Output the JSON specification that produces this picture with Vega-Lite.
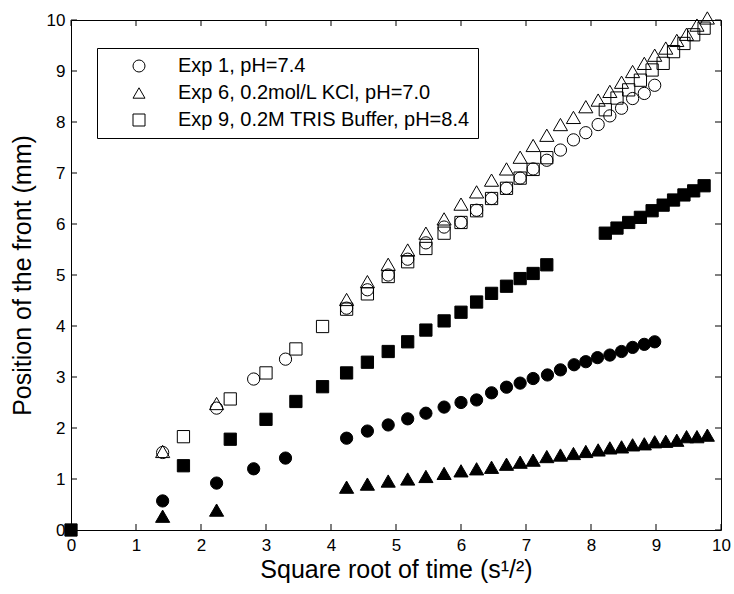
{
  "$schema": "https://vega.github.io/schema/vega-lite/v6.json",
  "width": 650,
  "height": 510,
  "autosize": "none",
  "padding": {"left": 71, "top": 20, "right": 13, "bottom": 64},
  "background": "white",
  "config": {
    "font": "Liberation Sans",
    "view": {"stroke": "black", "strokeWidth": 1},
    "axis": {
      "grid": false,
      "domain": false,
      "labelColor": "black",
      "titleColor": "black",
      "labelFont": "Liberation Sans",
      "titleFont": "Liberation Sans",
      "labelFontSize": 17,
      "titleFontSize": 25,
      "titleFontWeight": "normal",
      "labelFlush": false
    },
    "tick": {"thickness": 1, "color": "black", "opacity": 1},
    "legend": {
      "orient": "none",
      "legendX": 26,
      "legendY": 28,
      "fillColor": "white",
      "strokeColor": "black",
      "padding": 8,
      "labelFont": "Liberation Sans",
      "labelFontSize": 20,
      "labelColor": "black",
      "labelLimit": 500,
      "symbolOffset": 24,
      "labelOffset": 29,
      "rowPadding": 7,
      "symbolStrokeColor": "black",
      "symbolStrokeWidth": 1,
      "symbolFillColor": "transparent",
      "symbolSize": 144,
      "zindex": 2
    }
  },
  "datasets": {
    "ticks": [{"v": 0}, {"v": 1}, {"v": 2}, {"v": 3}, {"v": 4}, {"v": 5}, {"v": 6}, {"v": 7}, {"v": 8}, {"v": 9}, {"v": 10}],
    "open": [
      {"x": 1.41, "y": 1.52, "exp": "Exp 1, pH=7.4"},
      {"x": 2.24, "y": 2.39, "exp": "Exp 1, pH=7.4"},
      {"x": 2.81, "y": 2.96, "exp": "Exp 1, pH=7.4"},
      {"x": 3.30, "y": 3.35, "exp": "Exp 1, pH=7.4"},
      {"x": 4.24, "y": 4.35, "exp": "Exp 1, pH=7.4"},
      {"x": 4.56, "y": 4.71, "exp": "Exp 1, pH=7.4"},
      {"x": 4.88, "y": 5.00, "exp": "Exp 1, pH=7.4"},
      {"x": 5.18, "y": 5.31, "exp": "Exp 1, pH=7.4"},
      {"x": 5.46, "y": 5.63, "exp": "Exp 1, pH=7.4"},
      {"x": 5.74, "y": 5.94, "exp": "Exp 1, pH=7.4"},
      {"x": 6.00, "y": 6.03, "exp": "Exp 1, pH=7.4"},
      {"x": 6.24, "y": 6.27, "exp": "Exp 1, pH=7.4"},
      {"x": 6.47, "y": 6.50, "exp": "Exp 1, pH=7.4"},
      {"x": 6.70, "y": 6.70, "exp": "Exp 1, pH=7.4"},
      {"x": 6.91, "y": 6.90, "exp": "Exp 1, pH=7.4"},
      {"x": 7.11, "y": 7.08, "exp": "Exp 1, pH=7.4"},
      {"x": 7.32, "y": 7.25, "exp": "Exp 1, pH=7.4"},
      {"x": 7.53, "y": 7.45, "exp": "Exp 1, pH=7.4"},
      {"x": 7.73, "y": 7.65, "exp": "Exp 1, pH=7.4"},
      {"x": 7.92, "y": 7.79, "exp": "Exp 1, pH=7.4"},
      {"x": 8.11, "y": 7.95, "exp": "Exp 1, pH=7.4"},
      {"x": 8.29, "y": 8.12, "exp": "Exp 1, pH=7.4"},
      {"x": 8.47, "y": 8.27, "exp": "Exp 1, pH=7.4"},
      {"x": 8.64, "y": 8.46, "exp": "Exp 1, pH=7.4"},
      {"x": 8.82, "y": 8.56, "exp": "Exp 1, pH=7.4"},
      {"x": 8.98, "y": 8.72, "exp": "Exp 1, pH=7.4"},
      {"x": 1.41, "y": 1.54, "exp": "Exp 6, 0.2mol/L KCl, pH=7.0"},
      {"x": 2.24, "y": 2.48, "exp": "Exp 6, 0.2mol/L KCl, pH=7.0"},
      {"x": 4.24, "y": 4.52, "exp": "Exp 6, 0.2mol/L KCl, pH=7.0"},
      {"x": 4.56, "y": 4.87, "exp": "Exp 6, 0.2mol/L KCl, pH=7.0"},
      {"x": 4.88, "y": 5.21, "exp": "Exp 6, 0.2mol/L KCl, pH=7.0"},
      {"x": 5.18, "y": 5.49, "exp": "Exp 6, 0.2mol/L KCl, pH=7.0"},
      {"x": 5.46, "y": 5.82, "exp": "Exp 6, 0.2mol/L KCl, pH=7.0"},
      {"x": 5.74, "y": 6.10, "exp": "Exp 6, 0.2mol/L KCl, pH=7.0"},
      {"x": 6.00, "y": 6.39, "exp": "Exp 6, 0.2mol/L KCl, pH=7.0"},
      {"x": 6.24, "y": 6.63, "exp": "Exp 6, 0.2mol/L KCl, pH=7.0"},
      {"x": 6.47, "y": 6.86, "exp": "Exp 6, 0.2mol/L KCl, pH=7.0"},
      {"x": 6.70, "y": 7.08, "exp": "Exp 6, 0.2mol/L KCl, pH=7.0"},
      {"x": 6.91, "y": 7.31, "exp": "Exp 6, 0.2mol/L KCl, pH=7.0"},
      {"x": 7.11, "y": 7.54, "exp": "Exp 6, 0.2mol/L KCl, pH=7.0"},
      {"x": 7.32, "y": 7.74, "exp": "Exp 6, 0.2mol/L KCl, pH=7.0"},
      {"x": 7.53, "y": 7.95, "exp": "Exp 6, 0.2mol/L KCl, pH=7.0"},
      {"x": 7.73, "y": 8.09, "exp": "Exp 6, 0.2mol/L KCl, pH=7.0"},
      {"x": 7.92, "y": 8.30, "exp": "Exp 6, 0.2mol/L KCl, pH=7.0"},
      {"x": 8.11, "y": 8.43, "exp": "Exp 6, 0.2mol/L KCl, pH=7.0"},
      {"x": 8.29, "y": 8.60, "exp": "Exp 6, 0.2mol/L KCl, pH=7.0"},
      {"x": 8.47, "y": 8.78, "exp": "Exp 6, 0.2mol/L KCl, pH=7.0"},
      {"x": 8.64, "y": 8.99, "exp": "Exp 6, 0.2mol/L KCl, pH=7.0"},
      {"x": 8.82, "y": 9.15, "exp": "Exp 6, 0.2mol/L KCl, pH=7.0"},
      {"x": 8.98, "y": 9.31, "exp": "Exp 6, 0.2mol/L KCl, pH=7.0"},
      {"x": 9.15, "y": 9.45, "exp": "Exp 6, 0.2mol/L KCl, pH=7.0"},
      {"x": 9.32, "y": 9.60, "exp": "Exp 6, 0.2mol/L KCl, pH=7.0"},
      {"x": 9.47, "y": 9.72, "exp": "Exp 6, 0.2mol/L KCl, pH=7.0"},
      {"x": 9.63, "y": 9.90, "exp": "Exp 6, 0.2mol/L KCl, pH=7.0"},
      {"x": 9.79, "y": 10.04, "exp": "Exp 6, 0.2mol/L KCl, pH=7.0"},
      {"x": 1.73, "y": 1.83, "exp": "Exp 9, 0.2M TRIS Buffer, pH=8.4"},
      {"x": 2.45, "y": 2.57, "exp": "Exp 9, 0.2M TRIS Buffer, pH=8.4"},
      {"x": 3.00, "y": 3.08, "exp": "Exp 9, 0.2M TRIS Buffer, pH=8.4"},
      {"x": 3.46, "y": 3.55, "exp": "Exp 9, 0.2M TRIS Buffer, pH=8.4"},
      {"x": 3.87, "y": 3.99, "exp": "Exp 9, 0.2M TRIS Buffer, pH=8.4"},
      {"x": 4.24, "y": 4.33, "exp": "Exp 9, 0.2M TRIS Buffer, pH=8.4"},
      {"x": 4.56, "y": 4.63, "exp": "Exp 9, 0.2M TRIS Buffer, pH=8.4"},
      {"x": 4.88, "y": 4.97, "exp": "Exp 9, 0.2M TRIS Buffer, pH=8.4"},
      {"x": 5.18, "y": 5.26, "exp": "Exp 9, 0.2M TRIS Buffer, pH=8.4"},
      {"x": 5.46, "y": 5.52, "exp": "Exp 9, 0.2M TRIS Buffer, pH=8.4"},
      {"x": 5.74, "y": 5.82, "exp": "Exp 9, 0.2M TRIS Buffer, pH=8.4"},
      {"x": 6.00, "y": 6.03, "exp": "Exp 9, 0.2M TRIS Buffer, pH=8.4"},
      {"x": 6.24, "y": 6.26, "exp": "Exp 9, 0.2M TRIS Buffer, pH=8.4"},
      {"x": 6.47, "y": 6.50, "exp": "Exp 9, 0.2M TRIS Buffer, pH=8.4"},
      {"x": 6.70, "y": 6.70, "exp": "Exp 9, 0.2M TRIS Buffer, pH=8.4"},
      {"x": 6.91, "y": 6.90, "exp": "Exp 9, 0.2M TRIS Buffer, pH=8.4"},
      {"x": 7.11, "y": 7.07, "exp": "Exp 9, 0.2M TRIS Buffer, pH=8.4"},
      {"x": 7.32, "y": 7.30, "exp": "Exp 9, 0.2M TRIS Buffer, pH=8.4"},
      {"x": 8.22, "y": 8.24, "exp": "Exp 9, 0.2M TRIS Buffer, pH=8.4"},
      {"x": 8.40, "y": 8.47, "exp": "Exp 9, 0.2M TRIS Buffer, pH=8.4"},
      {"x": 8.58, "y": 8.63, "exp": "Exp 9, 0.2M TRIS Buffer, pH=8.4"},
      {"x": 8.76, "y": 8.82, "exp": "Exp 9, 0.2M TRIS Buffer, pH=8.4"},
      {"x": 8.94, "y": 9.02, "exp": "Exp 9, 0.2M TRIS Buffer, pH=8.4"},
      {"x": 9.11, "y": 9.15, "exp": "Exp 9, 0.2M TRIS Buffer, pH=8.4"},
      {"x": 9.27, "y": 9.38, "exp": "Exp 9, 0.2M TRIS Buffer, pH=8.4"},
      {"x": 9.43, "y": 9.54, "exp": "Exp 9, 0.2M TRIS Buffer, pH=8.4"},
      {"x": 9.58, "y": 9.71, "exp": "Exp 9, 0.2M TRIS Buffer, pH=8.4"},
      {"x": 9.74, "y": 9.84, "exp": "Exp 9, 0.2M TRIS Buffer, pH=8.4"}
    ],
    "filled": [
      {"x": 0, "y": 0, "exp": "Exp 9, 0.2M TRIS Buffer, pH=8.4"},
      {"x": 1.41, "y": 0.57, "exp": "Exp 1, pH=7.4"},
      {"x": 2.24, "y": 0.92, "exp": "Exp 1, pH=7.4"},
      {"x": 2.81, "y": 1.20, "exp": "Exp 1, pH=7.4"},
      {"x": 3.30, "y": 1.41, "exp": "Exp 1, pH=7.4"},
      {"x": 4.24, "y": 1.80, "exp": "Exp 1, pH=7.4"},
      {"x": 4.56, "y": 1.94, "exp": "Exp 1, pH=7.4"},
      {"x": 4.88, "y": 2.06, "exp": "Exp 1, pH=7.4"},
      {"x": 5.18, "y": 2.18, "exp": "Exp 1, pH=7.4"},
      {"x": 5.46, "y": 2.29, "exp": "Exp 1, pH=7.4"},
      {"x": 5.74, "y": 2.41, "exp": "Exp 1, pH=7.4"},
      {"x": 6.00, "y": 2.50, "exp": "Exp 1, pH=7.4"},
      {"x": 6.24, "y": 2.55, "exp": "Exp 1, pH=7.4"},
      {"x": 6.47, "y": 2.69, "exp": "Exp 1, pH=7.4"},
      {"x": 6.70, "y": 2.80, "exp": "Exp 1, pH=7.4"},
      {"x": 6.91, "y": 2.88, "exp": "Exp 1, pH=7.4"},
      {"x": 7.11, "y": 2.97, "exp": "Exp 1, pH=7.4"},
      {"x": 7.33, "y": 3.04, "exp": "Exp 1, pH=7.4"},
      {"x": 7.53, "y": 3.14, "exp": "Exp 1, pH=7.4"},
      {"x": 7.74, "y": 3.24, "exp": "Exp 1, pH=7.4"},
      {"x": 7.92, "y": 3.30, "exp": "Exp 1, pH=7.4"},
      {"x": 8.10, "y": 3.38, "exp": "Exp 1, pH=7.4"},
      {"x": 8.29, "y": 3.43, "exp": "Exp 1, pH=7.4"},
      {"x": 8.47, "y": 3.50, "exp": "Exp 1, pH=7.4"},
      {"x": 8.64, "y": 3.58, "exp": "Exp 1, pH=7.4"},
      {"x": 8.82, "y": 3.64, "exp": "Exp 1, pH=7.4"},
      {"x": 8.98, "y": 3.69, "exp": "Exp 1, pH=7.4"},
      {"x": 1.41, "y": 0.27, "exp": "Exp 6, 0.2mol/L KCl, pH=7.0"},
      {"x": 2.24, "y": 0.39, "exp": "Exp 6, 0.2mol/L KCl, pH=7.0"},
      {"x": 4.24, "y": 0.84, "exp": "Exp 6, 0.2mol/L KCl, pH=7.0"},
      {"x": 4.56, "y": 0.90, "exp": "Exp 6, 0.2mol/L KCl, pH=7.0"},
      {"x": 4.88, "y": 0.96, "exp": "Exp 6, 0.2mol/L KCl, pH=7.0"},
      {"x": 5.18, "y": 1.00, "exp": "Exp 6, 0.2mol/L KCl, pH=7.0"},
      {"x": 5.46, "y": 1.05, "exp": "Exp 6, 0.2mol/L KCl, pH=7.0"},
      {"x": 5.74, "y": 1.11, "exp": "Exp 6, 0.2mol/L KCl, pH=7.0"},
      {"x": 6.00, "y": 1.16, "exp": "Exp 6, 0.2mol/L KCl, pH=7.0"},
      {"x": 6.24, "y": 1.20, "exp": "Exp 6, 0.2mol/L KCl, pH=7.0"},
      {"x": 6.47, "y": 1.23, "exp": "Exp 6, 0.2mol/L KCl, pH=7.0"},
      {"x": 6.70, "y": 1.29, "exp": "Exp 6, 0.2mol/L KCl, pH=7.0"},
      {"x": 6.91, "y": 1.33, "exp": "Exp 6, 0.2mol/L KCl, pH=7.0"},
      {"x": 7.11, "y": 1.37, "exp": "Exp 6, 0.2mol/L KCl, pH=7.0"},
      {"x": 7.32, "y": 1.44, "exp": "Exp 6, 0.2mol/L KCl, pH=7.0"},
      {"x": 7.53, "y": 1.47, "exp": "Exp 6, 0.2mol/L KCl, pH=7.0"},
      {"x": 7.73, "y": 1.50, "exp": "Exp 6, 0.2mol/L KCl, pH=7.0"},
      {"x": 7.92, "y": 1.54, "exp": "Exp 6, 0.2mol/L KCl, pH=7.0"},
      {"x": 8.11, "y": 1.57, "exp": "Exp 6, 0.2mol/L KCl, pH=7.0"},
      {"x": 8.29, "y": 1.61, "exp": "Exp 6, 0.2mol/L KCl, pH=7.0"},
      {"x": 8.47, "y": 1.63, "exp": "Exp 6, 0.2mol/L KCl, pH=7.0"},
      {"x": 8.64, "y": 1.67, "exp": "Exp 6, 0.2mol/L KCl, pH=7.0"},
      {"x": 8.82, "y": 1.69, "exp": "Exp 6, 0.2mol/L KCl, pH=7.0"},
      {"x": 8.98, "y": 1.73, "exp": "Exp 6, 0.2mol/L KCl, pH=7.0"},
      {"x": 9.15, "y": 1.74, "exp": "Exp 6, 0.2mol/L KCl, pH=7.0"},
      {"x": 9.32, "y": 1.76, "exp": "Exp 6, 0.2mol/L KCl, pH=7.0"},
      {"x": 9.47, "y": 1.83, "exp": "Exp 6, 0.2mol/L KCl, pH=7.0"},
      {"x": 9.63, "y": 1.83, "exp": "Exp 6, 0.2mol/L KCl, pH=7.0"},
      {"x": 9.79, "y": 1.86, "exp": "Exp 6, 0.2mol/L KCl, pH=7.0"},
      {"x": 1.73, "y": 1.26, "exp": "Exp 9, 0.2M TRIS Buffer, pH=8.4"},
      {"x": 2.45, "y": 1.78, "exp": "Exp 9, 0.2M TRIS Buffer, pH=8.4"},
      {"x": 3.00, "y": 2.17, "exp": "Exp 9, 0.2M TRIS Buffer, pH=8.4"},
      {"x": 3.46, "y": 2.52, "exp": "Exp 9, 0.2M TRIS Buffer, pH=8.4"},
      {"x": 3.87, "y": 2.81, "exp": "Exp 9, 0.2M TRIS Buffer, pH=8.4"},
      {"x": 4.24, "y": 3.08, "exp": "Exp 9, 0.2M TRIS Buffer, pH=8.4"},
      {"x": 4.56, "y": 3.29, "exp": "Exp 9, 0.2M TRIS Buffer, pH=8.4"},
      {"x": 4.88, "y": 3.50, "exp": "Exp 9, 0.2M TRIS Buffer, pH=8.4"},
      {"x": 5.18, "y": 3.69, "exp": "Exp 9, 0.2M TRIS Buffer, pH=8.4"},
      {"x": 5.46, "y": 3.92, "exp": "Exp 9, 0.2M TRIS Buffer, pH=8.4"},
      {"x": 5.74, "y": 4.10, "exp": "Exp 9, 0.2M TRIS Buffer, pH=8.4"},
      {"x": 6.00, "y": 4.27, "exp": "Exp 9, 0.2M TRIS Buffer, pH=8.4"},
      {"x": 6.24, "y": 4.47, "exp": "Exp 9, 0.2M TRIS Buffer, pH=8.4"},
      {"x": 6.47, "y": 4.64, "exp": "Exp 9, 0.2M TRIS Buffer, pH=8.4"},
      {"x": 6.70, "y": 4.78, "exp": "Exp 9, 0.2M TRIS Buffer, pH=8.4"},
      {"x": 6.91, "y": 4.93, "exp": "Exp 9, 0.2M TRIS Buffer, pH=8.4"},
      {"x": 7.11, "y": 5.03, "exp": "Exp 9, 0.2M TRIS Buffer, pH=8.4"},
      {"x": 7.32, "y": 5.20, "exp": "Exp 9, 0.2M TRIS Buffer, pH=8.4"},
      {"x": 8.22, "y": 5.82, "exp": "Exp 9, 0.2M TRIS Buffer, pH=8.4"},
      {"x": 8.40, "y": 5.92, "exp": "Exp 9, 0.2M TRIS Buffer, pH=8.4"},
      {"x": 8.58, "y": 6.03, "exp": "Exp 9, 0.2M TRIS Buffer, pH=8.4"},
      {"x": 8.76, "y": 6.13, "exp": "Exp 9, 0.2M TRIS Buffer, pH=8.4"},
      {"x": 8.94, "y": 6.26, "exp": "Exp 9, 0.2M TRIS Buffer, pH=8.4"},
      {"x": 9.11, "y": 6.37, "exp": "Exp 9, 0.2M TRIS Buffer, pH=8.4"},
      {"x": 9.27, "y": 6.47, "exp": "Exp 9, 0.2M TRIS Buffer, pH=8.4"},
      {"x": 9.43, "y": 6.57, "exp": "Exp 9, 0.2M TRIS Buffer, pH=8.4"},
      {"x": 9.58, "y": 6.65, "exp": "Exp 9, 0.2M TRIS Buffer, pH=8.4"},
      {"x": 9.74, "y": 6.75, "exp": "Exp 9, 0.2M TRIS Buffer, pH=8.4"}
    ]
  },
  "resolve": {"axis": {"x": "independent", "y": "independent"}},
  "layer": [
    {
      "data": {"name": "ticks"},
      "mark": {"type": "tick", "orient": "vertical", "size": 6, "thickness": 1, "color": "black", "yOffset": -3, "clip": false},
      "encoding": {
        "x": {"field": "v", "type": "quantitative", "scale": {"domain": [0, 10], "nice": false},
              "axis": {"orient": "bottom", "values": [0,1,2,3,4,5,6,7,8,9,10], "ticks": false, "labelPadding": 7, "titlePadding": 4, "title": "Square root of time (s¹/²)"}},
        "y": {"datum": 0, "type": "quantitative", "scale": {"domain": [0, 10], "nice": false},
              "axis": {"orient": "left", "values": [0,1,2,3,4,5,6,7,8,9,10], "ticks": false, "labelPadding": 6, "titlePadding": 11, "title": "Position of the front (mm)"}}
      }
    },
    {
      "data": {"name": "ticks"},
      "mark": {"type": "tick", "orient": "vertical", "size": 6, "thickness": 1, "color": "black", "yOffset": 3, "clip": false},
      "encoding": {
        "x": {"field": "v", "type": "quantitative", "axis": null},
        "y": {"datum": 10, "type": "quantitative", "axis": null}
      }
    },
    {
      "data": {"name": "ticks"},
      "mark": {"type": "tick", "orient": "horizontal", "size": 6, "thickness": 1, "color": "black", "xOffset": 3, "clip": false},
      "encoding": {
        "y": {"field": "v", "type": "quantitative", "axis": null},
        "x": {"datum": 0, "type": "quantitative", "axis": null}
      }
    },
    {
      "data": {"name": "ticks"},
      "mark": {"type": "tick", "orient": "horizontal", "size": 6, "thickness": 1, "color": "black", "xOffset": -3, "clip": false},
      "encoding": {
        "y": {"field": "v", "type": "quantitative", "axis": null},
        "x": {"datum": 10, "type": "quantitative", "axis": null}
      }
    },
    {
      "data": {"name": "open"},
      "transform": [{"filter": "datum.exp != 'Exp 6, 0.2mol/L KCl, pH=7.0'"}],
      "mark": {"type": "point", "filled": false, "color": "black", "strokeWidth": 1, "opacity": 1, "size": 150, "clip": false},
      "encoding": {
        "x": {"field": "x", "type": "quantitative", "axis": null},
        "y": {"field": "y", "type": "quantitative", "axis": null},
        "shape": {"field": "exp", "type": "nominal",
                  "scale": {"domain": ["Exp 1, pH=7.4", "Exp 6, 0.2mol/L KCl, pH=7.0", "Exp 9, 0.2M TRIS Buffer, pH=8.4"], "range": ["circle", "triangle-up", "square"]},
                  "legend": {"title": null}}
      }
    },
    {
      "data": {"name": "open"},
      "transform": [{"filter": "datum.exp == 'Exp 6, 0.2mol/L KCl, pH=7.0'"}],
      "mark": {"type": "point", "filled": false, "color": "black", "strokeWidth": 1, "opacity": 1, "size": 200, "clip": false},
      "encoding": {
        "x": {"field": "x", "type": "quantitative", "axis": null},
        "y": {"field": "y", "type": "quantitative", "axis": null},
        "shape": {"field": "exp", "type": "nominal", "legend": {"title": null}}
      }
    },
    {
      "data": {"name": "filled"},
      "transform": [{"filter": "datum.exp != 'Exp 6, 0.2mol/L KCl, pH=7.0'"}],
      "mark": {"type": "point", "filled": true, "color": "black", "stroke": "black", "strokeWidth": 1, "opacity": 1, "size": 150, "clip": false},
      "encoding": {
        "x": {"field": "x", "type": "quantitative", "axis": null},
        "y": {"field": "y", "type": "quantitative", "axis": null},
        "shape": {"field": "exp", "type": "nominal", "legend": {"title": null}}
      }
    },
    {
      "data": {"name": "filled"},
      "transform": [{"filter": "datum.exp == 'Exp 6, 0.2mol/L KCl, pH=7.0'"}],
      "mark": {"type": "point", "filled": true, "color": "black", "stroke": "black", "strokeWidth": 1, "opacity": 1, "size": 200, "clip": false},
      "encoding": {
        "x": {"field": "x", "type": "quantitative", "axis": null},
        "y": {"field": "y", "type": "quantitative", "axis": null},
        "shape": {"field": "exp", "type": "nominal", "legend": {"title": null}}
      }
    }
  ]
}
